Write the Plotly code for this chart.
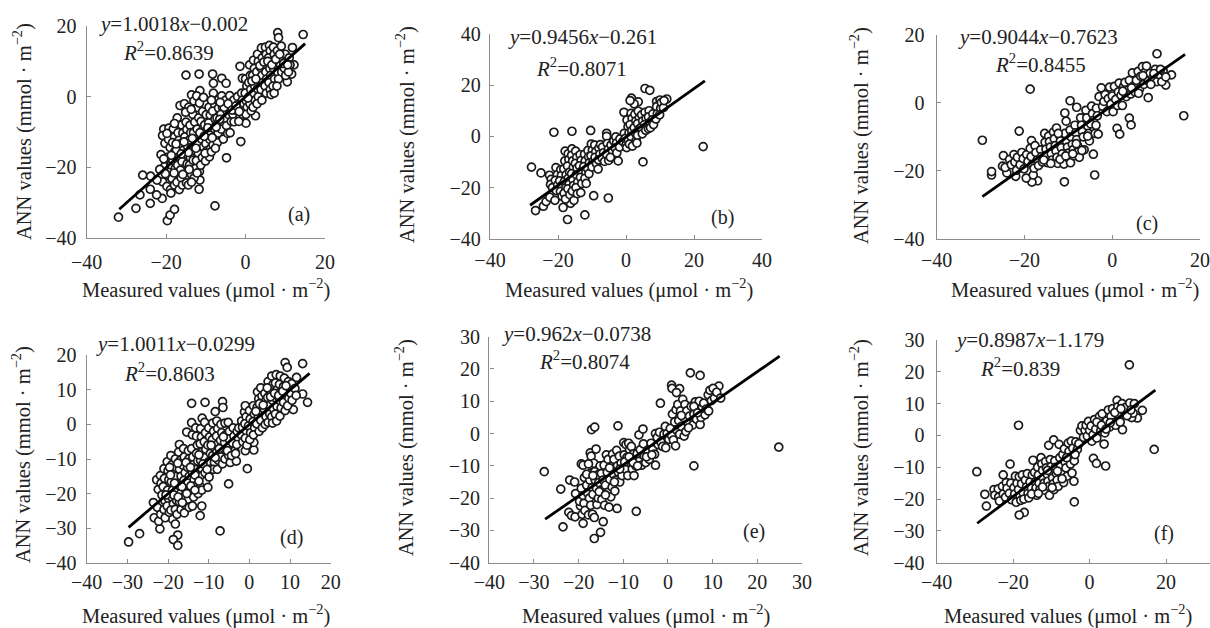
import plotly.graph_objects as go

W, H = 1210, 628

points_a = [(-32,-34.1),(-27.6,-31.6),(-24,-30.2),(-21,-28.8),(-22.4,-27.8),(-25.9,-22.2),(-23.9,-22.5),(-26.6,-27.8),(-24,-26.2),(-19.7,-35.1),(-19,-33.5),(-17.9,-31.9),(-7.7,-30.9),(-11.7,-26.2),(-11.5,-23.6),(-4.8,-17.3),(-1.2,-12.7),(-15,6.1),(-11.7,6.4),(-8.3,6.4),(-6,5.2),(-4.9,3.8),(-8.1,3.8),(-11.5,1.7),(-13.6,0.5),(8.1,18.1),(8.3,16.7),(14.5,17.6),(11.8,13.9),(12.2,9),(11.6,6.4),(10.5,4.2),(2.5,-5.4),(0.1,-7.5),(-1.4,8.6),(-0.8,5.2),
(-20.6,-9.2),(-20.9,-11),(-20.3,-13.2),(-21.3,-16.4),(-20.4,-19.8),(-20.9,-24.1),(-19.8,-25.4),(-22.3,-23.6),
(-19.3,-8.9),(-19.4,-12.1),(-19,-14.4),(-19.6,-17.2),(-18.8,-19.3),(-19.2,-22.4),(-18.9,-26.3),
(-18.2,-9.1),(-17.9,-11.4),(-18.4,-13),(-17.8,-15.5),(-18.3,-18.1),(-17.7,-20.3),(-18.5,-23.2),(-17.9,-25),(-18.8,-27.3),
(-17.2,-6),(-17,-10.2),(-16.8,-12.4),(-17.4,-15.1),(-16.6,-17),(-17.1,-19.4),(-16.9,-22.2),(-17.3,-24.2),(-16.7,-26.3),
(-16.5,-2.5),(-16.1,-8),(-15.8,-10.3),(-16.3,-13.3),(-15.7,-15.2),(-16,-18.4),(-15.6,-20.4),(-16.2,-23),(-15.9,-25),
(-15.4,-2),(-15,-7.2),(-14.8,-9.3),(-15.3,-11.4),(-14.6,-14),(-15.1,-16.2),(-14.7,-19),(-15.2,-21.3),(-14.9,-24.4),
(-14.3,-3),(-14,-8.1),(-13.8,-10.2),(-14.2,-12.3),(-13.7,-14.5),(-13.9,-17.2),(-14.1,-19.3),(-13.6,-22.1),(-14.4,-25),
(-13,-1.2),(-13.3,-5),(-12.8,-7.2),(-13.1,-10.2),(-12.7,-13),(-12.9,-15.2),(-13.2,-18),(-12.6,-20.3),(-13,-23.1),
(-12.3,0.2),(-12,-3.1),(-11.8,-6),(-12.2,-9.2),(-11.7,-11.4),(-12.1,-13.4),(-11.9,-16),(-12.4,-18.1),(-11.6,-21.2),
(-11,-1),(-10.8,-4.2),(-11.2,-7),(-10.7,-9.3),(-11.1,-12),(-10.6,-14.2),(-10.9,-17.2),(-11.3,-19.4),
(-10.2,-2.1),(-9.9,-5.1),(-10.3,-8),(-9.7,-10.2),(-10,-13.3),(-9.8,-15.4),(-10.1,-18.2),
(-9.2,-3),(-8.9,-5.2),(-9.3,-7.4),(-8.7,-10),(-9,-12.1),(-8.8,-14.6),(-9.1,-17),
(-8.1,1),(-7.8,-2.2),(-8.3,-4.1),(-7.7,-6.2),(-8,-9),(-7.6,-11.2),(-8.2,-13.7),
(-7,-1),(-6.8,-3.2),(-7.2,-6),(-6.6,-8),(-6.9,-10.3),(-7.1,-13),
(-6,0.2),(-5.8,-3),(-6.2,-5),(-5.7,-7.2),(-6.1,-9.2),(-5.6,-12),
(-5,-1),(-4.7,-4),(-5.2,-6.2),(-4.8,-8.2),(-4.5,-10.4),
(-4,0.3),(-3.8,-3),(-4.2,-5.1),(-3.6,-7),(-3.9,-10.2),
(-3,-1),(-2.7,-3),(-3.2,-5),(-2.9,-7.1),
(-2,0),(-1.8,-2.1),(-2.2,-4),(-1.7,-7),
(-1,1),(-0.8,-1),(-1.2,-3),(-0.7,-5),(-0.4,-2),
(0,5),(0.3,3),(-0.1,1),(0.2,-1.2),(0.4,-3),(0.1,-5),
(1,9),(1.2,6),(0.8,4),(1.3,2),(0.9,0),(1.1,-2),(1.4,-4),
(2,10.3),(2.2,8),(1.8,6),(2.3,3),(2,1),(2.4,-1),(1.9,-3),
(3,12),(3.2,10),(2.8,7),(3.3,5),(3,2.2),(3.2,0),(2.9,-2),
(4,13.8),(4.2,11),(3.8,8.2),(4.1,6),(4.3,4),(3.9,2),(4.1,-1),
(5,14),(5.2,12),(4.8,9),(5.1,7),(5.3,5),(4.9,3),(5.2,1),
(6,14.5),(6.2,13),(5.8,11),(6.1,8),(6.3,6),(5.9,4),(6.2,2),(6.4,0.6),
(7,14),(7.2,12),(6.8,10),(7.1,8),(7.3,5),(6.9,3),(7.2,1),
(8,13),(8.2,11),(7.8,9),(8.1,7),(8.3,5),(7.9,3),
(9,14.3),(9.2,11),(8.8,9),(9.1,7),
(10,12),(10.2,10),(9.8,8),(10.1,6),
(11,11),(11.2,9),(10.8,7),
(-19.8,-10.4),(-18.7,-16.6),(-17.5,-13.4),(-16.4,-20.8),(-15.5,-12.8),(-14.4,-15.8),(-13.4,-11.8),(-12.5,-14.6),(-11.5,-10.2),(-10.4,-11.2),(-9.5,-8.8),(-8.4,-11.6),(-7.4,-8.6),(-6.5,-6.4),(-5.4,-3),(-4.4,-2),(-3.4,-3.8),(-2.4,-2.6),(-1.6,-4.2),
(0.6,-0.4),(1.6,4.4),(2.6,5),(3.6,8.8),(4.6,9.8),(5.6,10),(6.6,9),(7.6,10.6),(8.6,12),(9.6,9.4),(10.6,9),
(-17.9,-7.6),(-15.1,-4.4),(-13.7,-3.6),(-11.6,-1.8),(-10.6,-0.2),(-8.6,-1),(-6.4,-1.6),(-16.2,-16.2),(-14.2,-20.6),(-12.2,-21.6),(-10.2,-16),(-8.6,-15.6),(-7.6,-14.6),(-20.2,-21.8),(-21.6,-20.6),(-20.6,-17.6),(-18,-21.6),(-15.8,-22),(-13.6,-24.2)]

points_b = [(22.7,-4),(5,-10),(-21.2,1.6),(-15.9,2),(-10.4,2.3),(-27.8,-12),(-25,-14.3),(-26.6,-29),(-24.3,-27.3),(-23.5,-25.5),(-18.5,-27.8),(-17.2,-32.5),(-12.1,-30.7),(-9.5,-23.2),(-5.2,-24.1),(-16.3,-26.2),(5.6,18.7),(7,18),(1.6,14.9),(3.6,13.5),(2.4,12.7),(-0.6,9.4),(12,14.6),(-2.3,-9.6),(-5.7,1.2),(-5.7,0),(1.2,14),
(-22.5,-15.2),(-22,-16.8),(-22.2,-18.8),(-21.6,-20),(-22.4,-23.8),(-20.6,-12.2),(-20.2,-15),(-20.8,-17.2),(-20.1,-19),(-20.5,-21.2),(-20.9,-25),
(-19.2,-13),(-19,-15.3),(-19.5,-17.4),(-18.9,-19.2),(-19.3,-21.5),(-18.8,-23.4),(-17.9,-5.8),(-18,-9.6),(-18.3,-12.8),(-17.6,-15),(-18.1,-17.6),(-17.7,-20),(-18.2,-22.2),(-17.8,-24.5),
(-17,-6.8),(-16.8,-9),(-17.2,-11.6),(-16.6,-14),(-17,-16.4),(-16.7,-18.7),(-17.1,-20.5),(-16.5,-22.8),
(-15.9,-4.9),(-16,-7.4),(-15.7,-9.6),(-15.5,-12),(-16,-14.6),(-15.6,-17),(-15.4,-19.2),(-15.8,-21.4),(-15.3,-25),
(-14.8,-5.8),(-14.5,-8.2),(-14.9,-10.6),(-14.4,-12.4),(-14.6,-15),(-14.2,-17.8),(-14.7,-20),(-14.3,-22.4),
(-13.5,-7.2),(-13.2,-9.4),(-13.7,-11.5),(-13.1,-13.6),(-13.4,-16),(-13,-18.4),(-13.3,-22),
(-12.2,-7),(-12,-9.6),(-12.4,-11.8),(-11.8,-14),(-12.1,-16.4),(-11.7,-18.4),
(-11.2,-5.5),(-11,-8),(-10.8,-10.4),(-11.3,-12.6),(-10.9,-14.6),
(-10.2,-3),(-9.9,-5.4),(-10.3,-7.6),(-9.7,-9.8),(-10,-12),
(-9.2,-3.4),(-8.9,-6),(-9.1,-8.2),(-8.7,-10.6),(-8.2,-12.8),
(-8,-4.6),(-7.7,-7),(-8.1,-9.2),(-7.5,-3.2),
(-6.9,-4.2),(-6.6,-6.4),(-7,-8.6),(-6.3,-9.8),
(-5.5,-2.8),(-5.2,-5),(-5.7,-7),(-5.1,-9.4),
(-4.4,-3.4),(-4,-5.6),(-4.6,-8.2),(-3.6,-1.8),
(-3,-0.2),(-2.8,-2.6),(-3.2,-4.6),(-2.7,-6.4),
(-1.8,-1),(-1.4,-3),(-1.9,-4.2),(-0.9,-2),
(-0.5,1.2),(-0.2,-0.8),(0,-3.4),(0.2,-4.4),
(0.3,6.4),(0.6,3.8),(0.9,1.4),(0.7,-1.4),(1,-3),
(1.5,9),(1.8,7),(1.2,4.6),(1.7,2.2),(1.4,0),(1.9,-3.8),
(2.6,8.6),(2.9,6),(2.4,3.4),(2.8,1.2),(3,-1.6),
(3.6,9.8),(3.9,7.2),(3.4,5),(3.8,2.8),(3.4,0.4),(3.2,-2.6),
(4.6,8.4),(4.9,6),(4.4,3.4),(4.8,1),
(5.6,9.4),(5.9,7),(5.4,4.6),(5.8,2.4),
(6.8,10),(6.6,7.6),(7,5.4),(6.6,3),(7.2,3.4),
(7.9,8.8),(7.7,6.4),(8.1,4.6),
(9,13.6),(9,11.6),(9.2,8.8),(8.8,6.8),
(10,14.2),(10.2,11),(9.9,8.4),(10.4,13.2),(11,11.2),(11.2,14)]

points_c = [(-29.6,-11),(-21.2,-8.3),(-18.7,4),(-9.6,0.6),(-18.4,-11.1),(-10.8,-3),(-8.1,-1.3),(10.2,14.4),(16.3,-3.8),(8.2,1.5),(1.1,-7.5),(1.7,-9.2),(3.9,-4.5),(4.3,-6.5),(-4.3,-15.1),(-4,-21.2),(-10.9,-23.2),(-17,-22.9),(-18.3,-23.3),(-19.6,-22.1),(-18,-21.2),(-27.5,-21.2),(-27.5,-20.2),(-22,-21.6),(-24,-20.6),(-24.8,-15.5),(12.2,5.2),(13.5,8.2),(-25,-18.6),(-24.4,-19),
(-23.4,-16.6),(-23,-18.2),(-22.4,-15.2),(-22.2,-17.4),(-21.8,-19.8),(-21.6,-16),(-21,-18.2),(-20.6,-14.6),(-20.3,-16.4),(-20.1,-19.4),(-19.5,-15.2),(-19.2,-17.2),(-18.7,-13.4),(-18.5,-15.8),(-18.2,-18.2),(-17.8,-19.2),(-17.6,-12.6),(-17.4,-14.6),(-17.1,-16.8),(-16.8,-18.4),
(-16.3,-13.8),(-16.1,-15.8),(-15.9,-17.4),(-15.4,-9),(-15.3,-11.6),(-15.1,-13.6),(-14.9,-15.4),(-14.7,-17.6),(-14.5,-9.8),(-14.3,-11.4),(-14.1,-13),(-13.9,-15),(-13.7,-16.8),
(-13.4,-8.6),(-13.2,-10.6),(-13,-12.6),(-12.8,-14.2),(-12.6,-16),(-12.4,-17.8),(-12.7,-7.4),(-12,-9.6),(-11.8,-11.2),(-11.6,-13.2),(-11.4,-15),(-11.2,-16.8),(-11,-18),
(-10.8,-9),(-10.5,-5.4),(-10.4,-11.4),(-10.2,-13),(-10,-14.8),(-9.8,-16.4),(-9.5,-17.6),(-9.6,-8),(-9.4,-10),(-9.1,-12.2),(-8.9,-13.8),(-8.7,-15.6),(-8.5,-6.6),(-8.3,-8.8),(-8.1,-10.8),(-7.9,-12.6),(-7.7,-14.4),(-7.5,-16),
(-7.2,-4.4),(-7,-6.6),(-6.8,-8.4),(-6.6,-10),(-6.4,-13.8),(-6,-2.2),(-5.8,-4.4),(-5.6,-6.8),(-5.4,-9),(-5.2,-11.2),(-4.7,-1),(-4.5,-3.2),(-4.3,-5.2),(-4.1,-7.4),(-3.9,-9),(-3.6,-1.6),(-3.4,-3.8),(-3.2,-9.2),
(-2.5,4.4),(-3,1.8),(-2.2,-1),(-1.9,0.4),(-1.6,2.4),(-1.2,-2.6),(-0.9,1.2),(-0.6,4.6),(-0.3,-0.4),(0,2),(0.2,-2.6),(0.5,4.8),(0.8,1),(1.2,-0.8),(1.4,3.2),(1.6,5.8),(2,2.2),(2.3,-0.8),(2.6,4.8),(2.9,6),(3.2,1.8),(3.6,3.8),(3.9,6.6),(4.2,2.6),(4.6,8.8),(4.9,5),(5.2,3.2),(5.5,6.6),(5.9,9.2),(6.2,4),(6.5,7.8),(6.9,10.6),(7.2,5.4),(7.5,9),(7.8,10.8),(8.2,6.4),(8.6,8.6),(9.2,7.2),(9.8,9.8),(10.2,6.2),(10.8,8.2),(11.3,6.2),(11.6,9.4),(12.2,7.6),
(-15.6,-16.8),(-14,-17.8),(-12.3,-9),(-11.9,-16.6),(-10.6,-15.6),(-9,-15),(-8.2,-12),(-6.9,-14),(-5.6,-9.8),(-4.9,-6.2),(-3.7,-6.6),(2.4,3.4),(4.4,4.4),(6,2.8),(7,8),(8.8,5.4),(9.5,8.6),(11,9.8)]

points_d = [(-29.7,-34),(-27,-31.6),(-17.6,-32),(-18.7,-33.3),(-17.6,-35),(-7.2,-30.8),(-12.1,-26.4),(-11.7,-23.6),(-5.1,-17.2),(-0.5,-12.8),(-14.2,6.1),(-10.9,6.4),(-6.6,6.6),(-6.5,4.9),(-8.4,3.7),(-11.6,1.8),(-14.2,0.5),(8.8,17.9),(9.3,16.5),(13.1,17.6),(11.6,13.6),(13.1,8.8),(14.3,6.4),(10.8,4.3),(-1,-7.6),(1.1,-7.4),(1.1,-5.2),(-23.6,-22.6),(-23.4,-27),(-22,-30.2),(-22.3,-28),(-18.9,-27.4),(-18.2,-28.8),
(-22.8,-16),(-22.4,-18.8),(-22.6,-24),(-21.9,-14.8),(-21.7,-17),(-21.5,-20.4),(-21.8,-26),(-21,-12.8),(-20.9,-15.6),(-21.2,-18),(-20.8,-22),(-21,-24.6),(-20.7,-27),
(-20.2,-10.8),(-20,-13.4),(-19.8,-16),(-20.1,-19),(-19.9,-21.4),(-20.2,-23.6),(-19.7,-25.4),
(-19.3,-9),(-19,-11.6),(-18.8,-14),(-19.2,-16.6),(-18.9,-19),(-19.1,-21),(-18.7,-23),(-19.3,-24.8),
(-18.2,-10),(-18,-12.4),(-18.3,-15),(-17.8,-17.2),(-18.1,-19.6),(-17.9,-22),(-18.2,-24.6),(-17.8,-26),
(-17.2,-5.8),(-17.4,-8),(-17,-10.4),(-17.2,-13),(-16.8,-15),(-17.1,-17.8),(-16.9,-20),(-17.2,-22.4),(-16.8,-24.6),
(-16.2,-7),(-16,-9.4),(-16.3,-11.8),(-15.8,-14),(-16.1,-16.2),(-15.9,-18.6),(-16.2,-21),(-15.8,-23.2),(-16,-25.6),
(-15.4,-2.2),(-15,-7.6),(-14.9,-10),(-15.2,-12.4),(-14.8,-15),(-15.1,-17),(-14.7,-19.4),(-15,-21.6),(-14.8,-24),
(-14,-3),(-14.2,-7),(-13.9,-9.4),(-13.7,-11.6),(-14,-13.8),(-13.6,-16),(-13.9,-18.6),(-13.7,-21),(-14,-23.6),
(-13,-3.4),(-13.2,-1),(-12.8,-6),(-13,-8.4),(-12.7,-10.6),(-13.1,-13),(-12.8,-15),(-13,-17.6),(-12.6,-20),
(-12,-1.2),(-11.8,-3.6),(-12.1,-5.6),(-11.7,-8),(-12,-10.4),(-11.8,-12.6),(-11.6,-14.8),(-12,-17.2),(-11.7,-19),
(-11,0.6),(-10.8,-2.4),(-11.1,-5),(-10.7,-7.2),(-11,-9.6),(-10.6,-12),(-10.9,-14),(-10.7,-16.4),(-10.2,-18.2),
(-10,-1),(-9.8,-3.6),(-10.2,-6),(-9.6,-8.4),(-10,-10.8),(-9.7,-13),(-9.9,-15.2),
(-9,0.4),(-8.8,-2),(-9.1,-4.4),(-8.7,-6.6),(-9,-9),(-8.6,-11),(-8.9,-13),
(-8,1),(-7.8,-1.2),(-8.1,-3.4),(-7.7,-5.6),(-8,-8),(-7.6,-10.4),(-7.9,-13),
(-7,0),(-6.8,-2.4),(-7.1,-4.6),(-6.7,-7),(-7,-9.4),(-6.6,-11.4),
(-6,0.4),(-5.8,-3),(-6.1,-5.2),(-5.7,-7.6),(-6,-10),
(-5.2,0.6),(-4.9,-2),(-5,-4.2),(-4.8,-6.4),(-5.1,-9),(-4.7,-11),
(-4,-1),(-3.8,-3.4),(-4.1,-5.4),(-3.6,-7.6),(-3.2,-10.6),
(-3,-2),(-2.7,-4),(-3.1,-5.8),(-2.6,-1),
(-1.9,1),(-1.7,-0.8),(-2,-3),(-1.6,-5),
(-1.2,3.6),(-1,5.4),(-0.8,2.2),(-1.1,0.2),(-0.7,-2),(-1,-4),(-0.6,-6),
(0,4),(0.2,1.6),(-0.2,-0.4),(0.3,-2.4),(0.1,-4.4),
(1,5.4),(1.2,3),(0.9,0.8),(1.3,-1),(1,-3),
(2,9.4),(2.3,7.4),(1.9,5),(2.2,2.4),(1.8,0.2),(2.4,-2),
(2.8,10.6),(3.1,8.2),(2.7,6),(3,3.6),(2.8,1.2),(3.2,-1),
(3.8,9),(4,6.8),(3.7,4.4),(4.1,2.2),(3.9,0),
(4.6,12.4),(4.9,10),(4.5,7.8),(4.8,5.4),(5,3),(4.6,0.6),
(5.5,14),(5.8,11.6),(5.4,9.2),(5.7,7),(5.9,4.6),(5.5,2.2),(5.7,0.4),
(6.6,14.4),(6.4,12),(6.8,10),(6.5,7.6),(6.8,5.2),(6.4,3),(6.7,1),
(7.6,14),(7.4,11.6),(7.7,9.4),(7.4,7),(7.8,4.8),(7.5,2.4),
(8.6,13.4),(8.4,11),(8.7,8.8),(8.4,6.4),(8.8,4),
(9.6,12.4),(9.4,10),(9.7,7.6),(9.4,5.4),
(10.4,11.8),(10.2,9),(10.5,7),(11.2,10.4),(11.5,8.4),
(-19.6,-12.4),(-18.6,-20.4),(-17.6,-11.2),(-16.6,-18),(-15.6,-11),(-14.5,-12.4),(-13.4,-14.6),(-12.4,-8.8),(-11.4,-11.4),(-10.4,-13),(-9.4,-6),(-8.4,-9.6),(-7.4,-7),(-6.4,-3.6),(-5.4,-7.6),(-4.4,-9),(-3.4,-8.4),
(1.6,3.8),(2.5,6),(3.4,5.6),(4.4,10.6),(5.2,8),(6.2,9),(7.2,8.4),(8.2,9.6),(9,11.2),(-20.5,-20.4),(-19.4,-14.6),(-18.4,-17),(-17.5,-21),(-16.5,-22.6),(-15.4,-20),(-14.4,-17.8),(-13.4,-19),(-12.4,-16.4)]

points_e = [(24.8,-4.2),(5,18.8),(7.2,18),(0.8,15),(0.9,14),(2.6,13.9),(1.9,12.7),(-1.7,9.4),(11.4,14.7),(5.8,-10),(-2.8,-9.8),(-27.7,-11.8),(-24,-17.2),(-23.5,-28.9),(-19,-27.8),(-16.5,-32.5),(-15.1,-30.6),(-14.5,-27.3),(-11.4,-23.2),(-7.1,-24.1),(-17.1,1.2),(-16.4,2),(-11.2,2.4),(-6.5,-0.4),(-5.6,1.4),(-22,-14.4),
(-22.2,-24.4),(-21.6,-25.4),(-20.8,-25.8),(-20.9,-15),(-20.7,-18.6),(-19.6,-22.4),(-19.8,-21),(-19.2,-25),(-19.4,-9.4),(-19,-9.8),(-19.4,-17),(-19,-19.2),(-18.8,-21.6),(-18.7,-13.6),(-18.6,-23.8),(-18.2,-16),(-18,-18.4),(-17.8,-25.2),(-17.6,-20),(-17.4,-6),(-17.2,-7),(-17.2,-12.2),(-17.5,-14.4),(-17.3,-22.2),(-17,-16.8),(-16.8,-18.8),(-16.9,-25),(-16.6,-9.2),(-16.5,-26),(-16.4,-11.8),(-16.3,-14.4),(-16.1,-4.8),(-16,-17),(-15.9,-22),(-15.6,-20),(-15.7,-12.8),(-15.5,-15.2),(-15.2,-10),(-15,-17.6),(-14.8,-20.4),(-14.9,-12.4),(-14.5,-14.4),(-14.3,-9.8),(-14.2,-22.2),(-14,-16),(-13.8,-6.6),(-13.6,-12),(-13.5,-18.2),(-13.4,-8),(-13.2,-22.8),(-13,-14.2),(-12.8,-19.6),(-12.6,-10),(-12.5,-16.6),(-12.4,-6.4),(-12.2,-12.6),(-12.1,-8),(-11.9,-17.8),(-11.7,-14.4),(-11.5,-5.2),(-11.3,-10),(-11.1,-12),(-10.9,-7),(-10.8,-15),(-10.5,-9.2),(-10.3,-13),(-9.9,-2.8),(-9.8,-6.6),(-9.6,-11),(-9.4,-3.4),(-9.2,-7.4),(-9,-13),(-8.8,-3),(-8.6,-5),(-8.5,-9),(-8.2,-4),(-8,-11),(-7.8,-6.4),(-7.6,-13),(-7.4,-8.2),(-7.2,-10),(-6.9,-6.2),(-6.5,-8.6),(-6.2,-5),(-5.9,-9.8),(-5.5,-3.2),(-5.3,-7),(-5,-9),(-4.6,-5.2),(-4.2,-8),(-3.8,-3),(-3.4,-5),(-3,-6.4),(-2.8,0),(-2.4,-1.2),(-2.2,-3.4),(-1.9,0.4),(-1.6,-2.6),(-1.2,-4),(-0.9,-0.2),(-0.6,2.2),(-0.5,-4.4),(-0.2,0),(0.2,-1.8),(0.5,1.6),(0.8,-0.6),(1,6),(1.2,-2),(1.5,3.6),(1.7,-3.8),(1.8,7.4),(2,1),(2.2,9),(2.4,4),(2.6,-0.2),(2.8,7),(3,2.2),(3.3,10.6),(3.5,5),(3.6,-0.8),(3.8,9),(4,0.6),(4.2,7),(4.5,3),(4.8,5.4),(5.2,8.4),(5.5,2.6),(5.8,6),(6.1,9.8),(6.4,4.4),(6.7,7.4),(7,10),(7.2,2.8),(7.4,5),(7.7,8),(8,9.4),(8.3,5.8),(8.6,7.6),(9,12),(9.1,7),(9.4,13.4),(9.7,10.2),(10.1,14),(10.4,11),(10.9,12.8),(11.8,11),
(-18.2,-12.6),(-17.8,-9.4),(-16.8,-13),(-15.4,-18),(-14,-19),(-13.1,-10.6),(-12,-15),(-10.8,-11),(-9.7,-8.8),(-8.7,-7.2),(-7.8,-9),(-6.8,-10),(-4.8,-7.2),(-3.6,-6.6),(3,5.6),(4.6,1.8),(5.8,8.4),(6.6,6.4)]

points_f = [(-29.5,-11.4),(-20.8,-9),(-18.6,3.2),(10.4,22.2),(16.9,-4.4),(1,-7.2),(1.8,-8.8),(4.2,-9.6),(3.8,-2.7),(-4,-20.9),(-4.1,-14.4),(-17.1,-24.2),(-18.4,-25),(-27,-22.2),(-27.4,-18.5),(-22.6,-12.4),(-10.7,-3.1),(-9.4,-1.4),(8.6,1.8),(12.5,5.5),(13.8,7.9),
(-25,-17),(-24.8,-18.8),(-23.9,-16.8),(-23.8,-19.4),(-23.6,-20.6),(-22.8,-16),(-22.6,-18.4),(-22,-19.4),(-21.8,-14.8),(-21.6,-16.6),(-21,-18.2),(-20.6,-15),(-20.4,-20.2),(-19.8,-16.4),(-19.6,-18.4),(-19.4,-12.8),(-19.2,-21),(-19,-15),(-18.6,-17),(-18.4,-13),(-18.2,-19),(-18,-20.4),(-17.8,-15.2),(-17.6,-12.4),(-17.4,-18),(-17.2,-20),(-16.8,-14),(-16.5,-16.2),(-16.3,-12),(-16.1,-18.2),(-15.9,-19.6),(-15.6,-14.6),(-15.2,-16.6),(-15,-12.4),(-14.8,-7.8),(-14.6,-18),(-14.4,-11.6),(-14.2,-14.6),(-14,-16.4),(-13.8,-18.8),(-13.6,-10),(-13.4,-12.4),(-13.2,-15),(-13,-17),(-12.7,-7),(-12.5,-9),(-12.3,-11),(-12.1,-13.4),(-11.9,-15),(-11.7,-17.2),(-11.5,-8.2),(-11.3,-10.2),(-11.1,-12.2),(-10.9,-14.4),(-10.7,-16),(-10.5,-18.8),(-10.3,-7.6),(-10.1,-9.8),(-9.9,-11.8),(-9.7,-13.4),(-9.5,-15.2),(-9.3,-17),(-9.1,-8),(-8.9,-10),(-8.7,-12),(-8.5,-14),(-8.2,-16),(-8,-2.8),(-7.8,-7),(-7.6,-9.8),(-7.4,-11.8),(-7,-6),(-6.8,-14.8),(-6.6,-4.2),(-6.4,-8.4),(-6.2,-10.2),(-5.9,-12.8),(-5.6,-2.4),(-5.4,-5),(-5.2,-7),(-5,-9),(-4.8,-1.8),(-4.4,-4),(-4.2,-6.6),(-4,-8),(-3.6,-2),(-3.2,-4.4),(-2.8,-2.6),(-2.4,1.6),(-2,3),(-1.6,-0.6),(-1.2,1.6),(-0.9,3.2),(-0.6,-0.2),(-0.3,4.4),(0,1.6),(0.4,3),(0.6,-1.8),(0.9,0.2),(1.3,5),(1.6,2),(1.9,-0.8),(2.4,3.8),(2.6,6),(2.9,1.4),(3.3,6.8),(3.7,3),(4,0.8),(4.5,4.6),(4.9,8),(5.2,2.6),(5.6,6),(6,8.4),(6.4,4),(6.8,3.2),(7.2,11),(7.4,9),(7.7,6.4),(8,4.2),(8.5,10),(8.9,7.8),(9.4,8.8),(10.2,6.4),(10.5,10.2),(11,5.6),(11.4,7),(11.7,10),
(-15.2,-18.4),(-13.4,-18.2),(-12.3,-16.2),(-11,-11),(-9.8,-16.4),(-8.4,-11.2),(-7.2,-13.6),(-6,-7),(-4.6,-11.8),(-3.8,-6),(1.9,4.2),(3.1,3.2),(4.3,2),(5.4,4),(6.6,7.2),(8.2,8.4),(9.8,6.2),(10.8,8)]

slopes = [1.0018, 0.9456, 0.9044, 1.0011, 0.962, 0.8987]
intercepts = [-0.002, -0.261, -0.7623, -0.0299, -0.0738, -1.179]
fit_x_ends = [(-31.8, 15), (-28.2, 23.2), (-29.6, 16.6), (-29.7, 14.8), (-27.5, 25), (-29.4, 17.2)]

equations = ["<i>y</i>=1.0018<i>x</i>−0.002", "<i>y</i>=0.9456<i>x</i>−0.261", "<i>y</i>=0.9044<i>x</i>−0.7623",
             "<i>y</i>=1.0011<i>x</i>−0.0299", "<i>y</i>=0.962<i>x</i>−0.0738", "<i>y</i>=0.8987<i>x</i>−1.179"]
r_squared = ["<i>R</i><sup>2</sup>=0.8639", "<i>R</i><sup>2</sup>=0.8071", "<i>R</i><sup>2</sup>=0.8455",
             "<i>R</i><sup>2</sup>=0.8603", "<i>R</i><sup>2</sup>=0.8074", "<i>R</i><sup>2</sup>=0.839"]
letters = ["(a)", "(b)", "(c)", "(d)", "(e)", "(f)"]
x_label = "Measured values (μmol · m<sup>−2</sup>)"
y_label = "ANN values (mmol · m<sup>−2</sup>)"

panel_points = [points_a, points_b, points_c, points_d, points_e, points_f]

boxes = [(86.7, 325, 26, 238), (490, 762, 34, 238.7), (936.7, 1200, 34.7, 239),
         (86.7, 330.7, 355.3, 562.7), (489.3, 802, 336.7, 562.7), (936.7, 1210, 340, 562.7)]
x_ranges = [(-40, 20), (-40, 40), (-40, 20), (-40, 20), (-40, 30), (-40, 31.5)]
y_ranges = [(-40, 20), (-40, 40), (-40, 20), (-40, 20), (-40, 30), (-40, 30)]
x_steps = [20, 20, 20, 10, 10, 20]
y_steps = [20, 20, 20, 10, 10, 10]
x_standoff = [6, 3, 3, 1, 1, 1]
y_standoff = [5, 4, 7, 5, 4, 7]
eq_pos = [(174, 24), (582, 37), (1038, 37), (175, 344), (576, 334), (1029, 340)]
r2_pos = [(168, 52), (581, 67), (1040, 63), (169, 372), (584, 360), (1020, 367)]
letter_pos = [(299, 214), (722, 217), (1147, 224), (291, 537), (754, 531), (1164, 533)]
xt_pos = [(206, 289), (629, 289), (1075, 289), (206, 614), (646, 614), (1068, 614)]
yt_pos = [(23, 132), (405, 135), (860, 136), (21, 455), (405, 448), (860, 448)]

fig = go.Figure()
font = "Liberation Serif"
TICK = 20
for i, pts in enumerate(panel_points):
    n = "" if i == 0 else str(i + 1)
    l, r, t, b = boxes[i]
    xs, ys = zip(*pts)
    fig.add_trace(go.Scatter(x=xs, y=ys, mode="markers", xaxis="x" + n, yaxis="y" + n, showlegend=False,
                             cliponaxis=False,
                             marker=dict(symbol="circle", size=8, color="white", line=dict(color="#1a1a1a", width=1.7))))
    x0, x1 = fit_x_ends[i]
    fig.add_trace(go.Scatter(x=[x0, x1], y=[slopes[i] * x0 + intercepts[i], slopes[i] * x1 + intercepts[i]],
                             mode="lines", xaxis="x" + n, yaxis="y" + n, showlegend=False,
                             line=dict(color="black", width=2.8)))
    common = dict(showgrid=False, zeroline=False, showline=True, linecolor="#8c8c8c", linewidth=1.4,
                  ticks="inside", ticklen=4, tickcolor="#8c8c8c", tickwidth=1.2, tickmode="linear",
                  tickfont=dict(family=font, size=TICK, color="#222"))
    fig.update_layout(**{
        "xaxis" + n: dict(domain=[l / W, r / W], anchor="y" + n, range=list(x_ranges[i]),
                          tick0=-40, dtick=x_steps[i], ticklabelstandoff=x_standoff[i], **common),
        "yaxis" + n: dict(domain=[1 - b / H, 1 - t / H], anchor="x" + n, range=list(y_ranges[i]),
                          tick0=-40, dtick=y_steps[i], ticklabelstandoff=y_standoff[i], **common),
    })
    for text, (px, py), size, angle in [(equations[i], eq_pos[i], 21, 0), (r_squared[i], r2_pos[i], 21, 0),
                                        (letters[i], letter_pos[i], 20, 0), (x_label, xt_pos[i], 20.5, 0),
                                        (y_label, yt_pos[i], 20.5, -90)]:
        fig.add_annotation(x=px / W, y=1 - py / H, xref="paper", yref="paper", text=text, showarrow=False,
                           xanchor="center", yanchor="middle", textangle=angle,
                           font=dict(family=font, size=size, color="#222"))

fig.update_layout(width=W, height=H, margin=dict(l=0, r=0, t=0, b=0, autoexpand=False), paper_bgcolor="white",
                  plot_bgcolor="rgba(0,0,0,0)", showlegend=False)
fig.write_html("out.html", config={"displayModeBar": False},
               post_script="document.body.style.margin='0';document.body.style.overflow='hidden';")
